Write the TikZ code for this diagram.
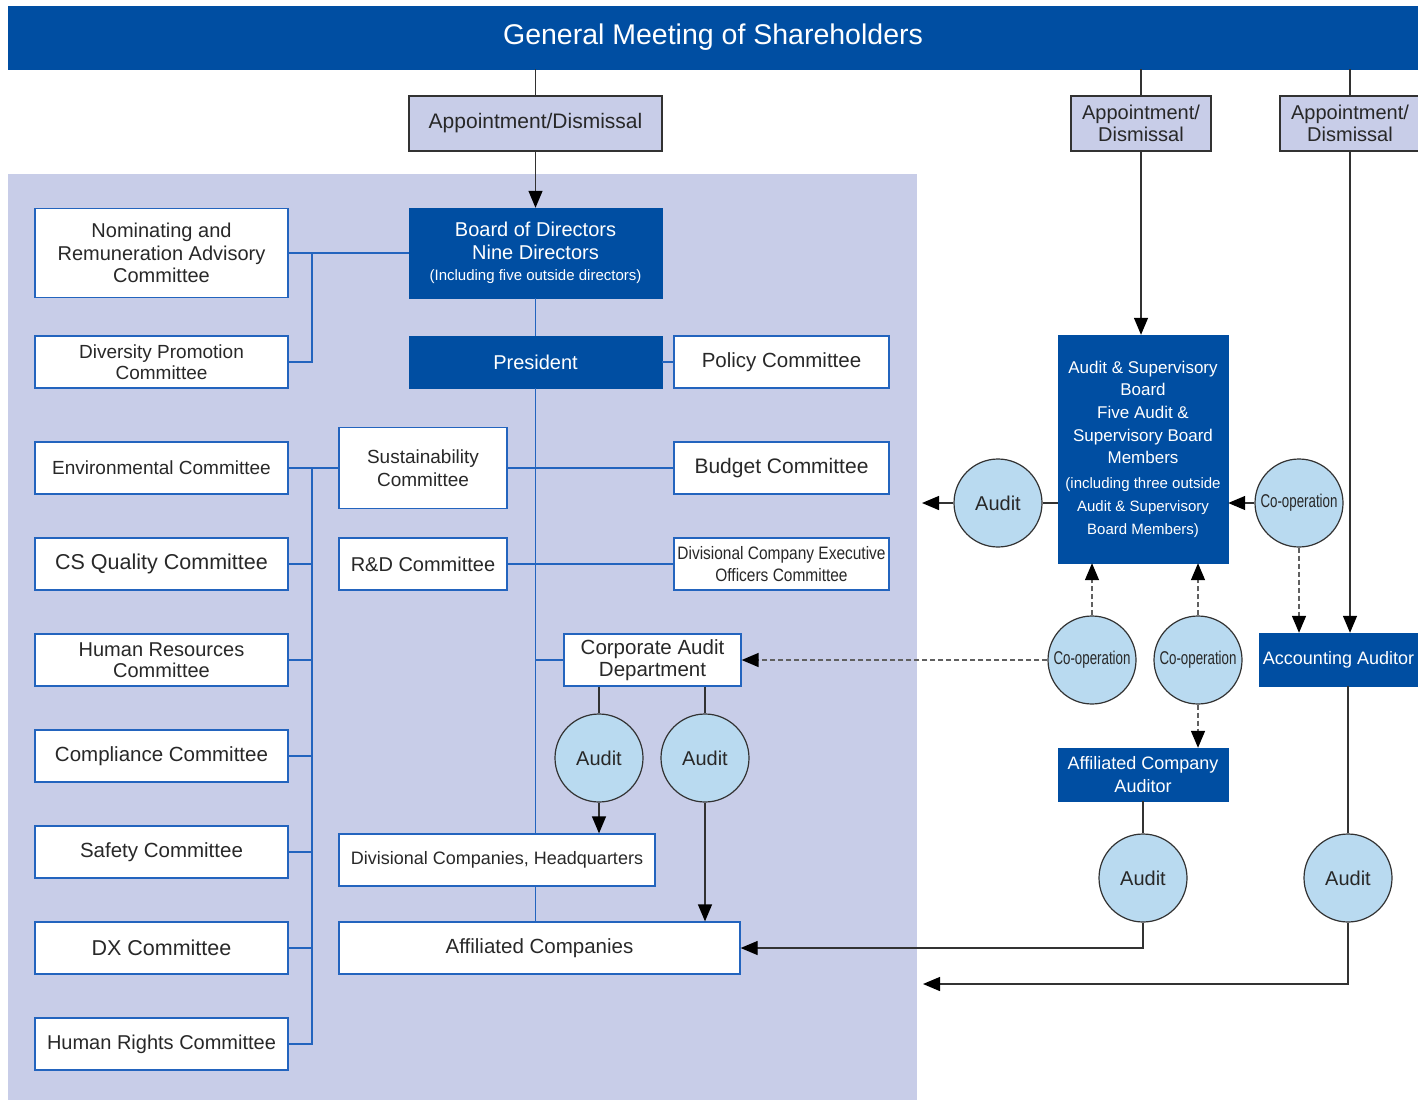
\documentclass[tikz,border=0pt]{standalone}
\usepackage{fontspec}
\setmainfont{Liberation Sans}
\usepackage{graphicx}
\usetikzlibrary{arrows.meta}
\definecolor{navy}{RGB}{0,78,162}
\definecolor{lav}{RGB}{200,205,232}
\definecolor{lblue}{RGB}{185,218,240}
\definecolor{lineblue}{RGB}{35,100,190}
\definecolor{dk}{RGB}{50,50,50}
\definecolor{txt}{RGB}{40,40,40}
\newcommand\fsz[1]{\fontsize{#1}{22.5}\selectfont}
\newcommand\smf{\fontsize{15}{19.5}\selectfont}
\newcommand\coop{\scalebox{0.72}[1]{Co-operation}}
\begin{document}
\begin{tikzpicture}[x=1pt,y=-1pt,
  sz/.style 2 args={minimum width=#1pt, minimum height=#2pt},
  wbox/.style={draw=lineblue, fill=white, line width=1.3pt, align=center, text=txt, inner sep=1pt},
  nbox/.style={draw=navy, fill=navy, text=white, align=center, inner sep=1pt},
  abox/.style={draw=dk, fill=lav, line width=1.2pt, align=center, text=txt, inner sep=1pt},
  circ/.style={circle, draw=dk, fill=lblue, line width=1.2pt, minimum size=88pt, inner sep=0pt, text=txt},
  bl/.style={draw=lineblue, line width=1.4pt},
  kl/.style={draw=dk, line width=1.3pt},
  arr/.style={-{Triangle[length=17pt,width=14pt,color=black]}},
  dsh/.style={draw=gray!75!black, line width=1.5pt, dash pattern=on 5pt off 3pt}
]
\useasboundingbox (0,0) rectangle (1418,1100);
\fill[white] (0,0) rectangle (1418,1100);
\fill[lav] (8,174) rectangle (917,1100);

% top
\node[nbox, sz={1410}{63}, font=\fsz{28.5}] (gm) at (713,37.5) {General Meeting of Shareholders};
\node[abox, sz={253}{55}, font=\fsz{21}] (ad1) at (535.5,123.5) {Appointment/Dismissal};
\node[abox, sz={140}{55}, font=\fsz{20}] (ad2) at (1141,123.5) {Appointment/\\[-1pt]Dismissal};
\node[abox, sz={140}{55}, font=\fsz{20}] (ad3) at (1350,123.5) {Appointment/\\[-1pt]Dismissal};

% board, president
\node[nbox, sz={253}{90}, font=\fsz{20}] (bod) at (535.5,253) {Board of Directors\\Nine Directors\\[-1pt]{\smf (Including five outside directors)}};
\node[nbox, sz={253}{52}, font=\fsz{20}] (pres) at (535.5,362) {President};
\node[wbox, sz={215}{52}, font=\fsz{20.5}] (pol) at (781.5,362) {Policy Committee};

% left committees
\node[wbox, sz={253}{89}, font=\fsz{20}] (nom) at (161.5,253) {Nominating and\\Remuneration Advisory\\Committee};
\node[wbox, sz={253}{52}, font=\fontsize{19}{21.5}\selectfont] (div) at (161.5,362) {Diversity Promotion\\Committee};
\node[wbox, sz={253}{52}, font=\fsz{19}] (env) at (161.5,468) {Environmental Committee};
\node[wbox, sz={253}{52}, font=\fsz{21.5}] (csq) at (161.5,564) {CS Quality Committee};
\node[wbox, sz={253}{52}, font=\fontsize{20}{21.5}\selectfont] (hr) at (161.5,660) {Human Resources\\Committee};
\node[wbox, sz={253}{52}, font=\fsz{20.5}] (comp) at (161.5,756) {Compliance Committee};
\node[wbox, sz={253}{52}, font=\fsz{20.5}] (saf) at (161.5,852) {Safety Committee};
\node[wbox, sz={253}{52}, font=\fsz{21.5}] (dx) at (161.5,948) {DX Committee};
\node[wbox, sz={253}{52}, font=\fsz{20}] (hrc) at (161.5,1044) {Human Rights Committee};

% middle committees
\node[wbox, sz={168}{81}, font=\fontsize{19}{22.5}\selectfont] (sus) at (423,468) {Sustainability\\Committee};
\node[wbox, sz={168}{52}, font=\fsz{20}] (rd) at (423,564) {R\&D Committee};
\node[wbox, sz={215}{52}, font=\fsz{21}] (bud) at (781.5,468) {Budget Committee};
\node[wbox, sz={215}{52}, font=\fontsize{18}{22}\selectfont] (dceo) at (781.5,564) {\scalebox{0.86}[1]{Divisional Company Executive}\\\scalebox{0.86}[1]{Officers Committee}};
\node[wbox, sz={177}{52}, font=\fontsize{20.5}{22}\selectfont] (cad) at (652.5,660) {Corporate Audit\\Department};
\node[circ, font=\fsz{20}] (au1) at (599,758) {Audit};
\node[circ, font=\fsz{20}] (au2) at (705,758) {Audit};
\node[wbox, sz={316}{52}, font=\fsz{18}] (dch) at (497,860) {Divisional Companies, Headquarters};
\node[wbox, sz={401}{52}, font=\fsz{20.5}] (aff) at (539.5,948) {Affiliated Companies};

% right side
\node[nbox, sz={170}{228}, font=\fontsize{17}{22.7}\selectfont] (asb) at (1143,449) {Audit \& Supervisory\\Board\\Five Audit \&\\Supervisory Board\\Members\\[2pt] \smf (including three outside\\ \smf Audit \& Supervisory\\ \smf Board Members)};
\node[circ, font=\fsz{20}] (auL) at (998,503) {Audit};
\node[circ, font=\fsz{18.5}] (coR) at (1299,503) {\coop};
\node[circ, font=\fsz{18.5}] (coA) at (1092,660) {\coop};
\node[circ, font=\fsz{18.5}] (coB) at (1198,660) {\coop};
\node[nbox, sz={159}{53}, font=\fsz{18}] (acc) at (1338.5,659.5) {Accounting Auditor};
\node[nbox, sz={170}{53}, font=\fontsize{18}{22.5}\selectfont] (aca) at (1143,774.5) {Affiliated Company\\Auditor};
\node[circ, font=\fsz{20}] (au3) at (1143,878) {Audit};
\node[circ, font=\fsz{20}] (au4) at (1348,878) {Audit};

\coordinate (lt1) at (922,503);
\coordinate (lt2) at (923,984);
\coordinate (b1) at (312,253);
\coordinate (b2) at (312,468);

% connectors top
\draw[kl] (ad1.north |- gm.south) -- (ad1.north);
\draw[kl,arr] (ad1.south) -- (bod.north);
\draw[kl] (ad2.north |- gm.south) -- (ad2.north);
\draw[kl,arr] (ad2.south) -- (ad2.south |- asb.north);
\draw[kl] (ad3.north |- gm.south) -- (ad3.north);
\draw[kl,arr] (ad3.south) -- (ad3.south |- acc.north);

% blue tree
\draw[bl] (nom.east) -- (bod.west);
\draw[bl] (b1) |- (div.east);
\draw[bl] (bod.south) -- (pres.north);
\draw[bl] (pres.east) -- (pol.west);
\draw[bl] (pres.south) -- (pres.south |- dch.north);
\draw[bl] (pres.south |- dch.south) -- (pres.south |- aff.north);
\draw[bl] (env.east) -- (sus.west);
\draw[bl] (sus.east) -- (bud.west);
\draw[bl] (rd.east) -- (dceo.west);
\draw[bl] (b2) |- (hrc.east);
\draw[bl] (csq.east) -- (csq.east -| b2);
\draw[bl] (hr.east) -- (hr.east -| b2);
\draw[bl] (comp.east) -- (comp.east -| b2);
\draw[bl] (saf.east) -- (saf.east -| b2);
\draw[bl] (dx.east) -- (dx.east -| b2);
\draw[bl] (cad.west) -- (cad.west -| pres.south);

% audit arrows middle
\draw[kl] (cad.south -| au1) -- (au1.north);
\draw[kl,arr] (au1.south) -- (au1.south |- dch.north);
\draw[kl] (cad.south -| au2) -- (au2.north);
\draw[kl,arr] (au2.south) -- (au2.south |- aff.north);

% right connectors
\draw[kl] (asb.west |- auL) -- (auL.east);
\draw[kl,arr] (auL.west) -- (lt1);
\draw[kl,arr] (coR.west) -- (coR.west -| asb.east);
\draw[dsh,arr] (coR.south) -- (coR.south |- acc.north);
\draw[dsh,arr] (coA.north) -- (coA.north |- asb.south);
\draw[dsh,arr] (coB.north) -- (coB.north |- asb.south);
\draw[dsh,arr] (coB.south) -- (coB.south |- aca.north);
\draw[dsh,arr] (coA.west) -- (cad.east);
\draw[kl] (aca.south) -- (au3.north);
\draw[kl] (acc.south -| au4) -- (au4.north);
\draw[kl,arr] (au3.south) |- (aff.east);
\draw[kl,arr] (au4.south) |- (lt2);
\end{tikzpicture}
\end{document}
